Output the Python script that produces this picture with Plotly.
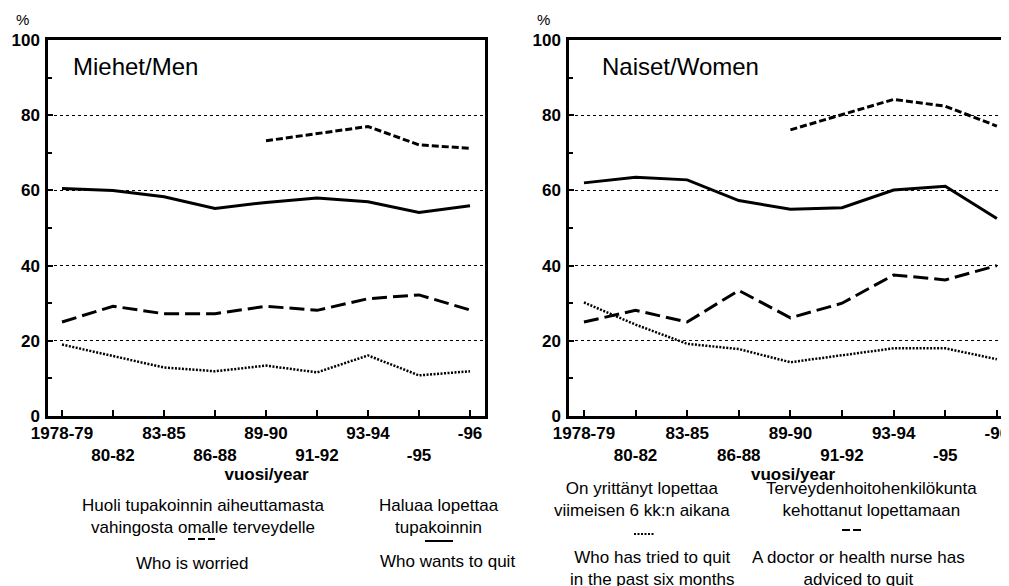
import plotly.graph_objects as go

W, H = 1009, 586

periods = ["1978-79", "80-82", "83-85", "86-88", "89-90", "91-92", "93-94", "-95", "-96"]

# Men
men_wants_quit = [60.5, 60, 58.3, 55.2, 56.8, 58, 57, 54.1, 55.9]
men_worried = [None, None, None, None, 73.2, 75.2, 77, 72.1, 71.2]
men_doctor = [25, 29.2, 27.2, 27.2, 29.2, 28.1, 31.2, 32.2, 28.2]
men_tried = [19, 15.9, 12.9, 11.9, 13.4, 11.6, 16.1, 10.8, 11.9]

# Women
women_wants_quit = [62, 63.5, 62.8, 57.3, 55, 55.4, 60.1, 61.1, 52.5]
women_worried = [None, None, None, None, 76.1, 80.2, 84.2, 82.4, 77.1]
women_doctor = [25, 28.1, 25, 33.4, 26.1, 30, 37.5, 36.2, 40]
women_tried = [30.2, 24.3, 19.2, 17.8, 14.3, 16.1, 18, 18, 15.1]

FONT = "Liberation Sans"

# page body has an 8px margin: convert screen pixels to paper fractions
OX, OY = 8, 8

def px(x):
    return (x - OX) / W

def py(y):
    return 1 - (y - OY) / H

x_idx = list(range(len(periods)))
ticktext = [p if i % 2 == 0 else "<br>" + p for i, p in enumerate(periods)]

styles = {
    "wants": dict(color="black", width=3, dash="solid"),
    "worried": dict(color="black", width=3, dash="7px,3px"),
    "doctor": dict(color="black", width=3, dash="15px,6px"),
    "tried": dict(color="black", width=2.5, dash="2px,1.5px"),
}

fig = go.Figure()

def add_panel(xa, ya, wants, worried, doctor, tried):
    for vals, key in [(wants, "wants"), (worried, "worried"), (doctor, "doctor"), (tried, "tried")]:
        fig.add_trace(go.Scatter(x=x_idx, y=vals, mode="lines", line=styles[key],
                                 xaxis=xa, yaxis=ya, showlegend=False, connectgaps=False,
                                 hoverinfo="skip"))

add_panel("x", "y", men_wants_quit, men_worried, men_doctor, men_tried)
add_panel("x2", "y2", women_wants_quit, women_worried, women_doctor, women_tried)

tickfont = dict(family=FONT, size=17, color="black", weight="bold")

def xaxis_cfg(domain, rng, mirror):
    return dict(domain=domain, range=rng, tickvals=x_idx, ticktext=ticktext, tickangle=0,
                automargin=False,
                ticks="inside", ticklen=6, tickwidth=1.5, tickcolor="black",
                showline=True, linewidth=2.5, linecolor="black", mirror=mirror,
                showgrid=False, zeroline=False, tickfont=tickfont,
                title=dict(text="vuosi/year", font=dict(family=FONT, size=17, color="black", weight="bold"), standoff=2))

def yaxis_cfg(domain, anchor, mirror):
    return dict(domain=domain, range=[0, 100], dtick=20, anchor=anchor, automargin=False,
                ticks="inside", ticklen=5, tickwidth=1.5, tickcolor="black",
                showline=True, linewidth=2.5, linecolor="black", mirror=mirror,
                showgrid=True, gridcolor="black", griddash="dot", gridwidth=1,
                zeroline=False, tickfont=tickfont, ticklabelstandoff=2,
                minor=dict(dtick=10, ticks="inside", ticklen=4, tickcolor="black", showgrid=False))

ydom = [py(416), py(40)]

fig.update_layout(
    width=W, height=H,
    margin=dict(l=0, r=0, t=0, b=0, autoexpand=False),
    paper_bgcolor="white", plot_bgcolor="white",
    font=dict(family=FONT, color="black"),
    xaxis=xaxis_cfg([px(48), px(485)], [-0.275, 8.294], True),
    yaxis=yaxis_cfg(ydom, "x", True),
    xaxis2=dict(xaxis_cfg([px(569), 1.0], [-0.29, 8.39], True), anchor="y2"),
    yaxis2=yaxis_cfg(ydom, "x2", False),
)

ann = []
def text(x, y, s, size=17, xanchor="center"):
    ann.append(dict(x=px(x), y=py(y), xref="paper", yref="paper", text=s, showarrow=False,
                    xanchor=xanchor, yanchor="middle", align="center",
                    font=dict(family=FONT, size=size, color="black")))

text(22, 20, "%", 15)
text(543, 20, "%", 15)
text(71, 66, "Miehet/Men", 24, "left")
text(600, 66, "Naiset/Women", 24, "left")

text(203, 516, "Huoli tupakoinnin aiheuttamasta<br>vahingosta omalle terveydelle")
text(192, 563, "Who is worried")
text(439, 516, "Haluaa lopettaa<br>tupakoinnin")
text(447, 561, "Who wants to quit")
text(642, 499, "On yrittänyt lopettaa<br>viimeisen 6 kk:n aikana")
text(652, 568, "Who has tried to quit<br>in the past six months")
text(871, 499, "Terveydenhoitohenkilökunta<br>kehottanut lopettamaan")
text(858, 568, "A doctor or health nurse has<br>adviced to quit")
fig.update_layout(annotations=ann)

shapes = []
def sample(x0, x1, y, key):
    st = styles[key]
    shapes.append(dict(type="line", xref="paper", yref="paper", x0=px(x0), x1=px(x1), y0=py(y), y1=py(y),
                       line=dict(color="black", width=2, dash=st["dash"] if key != "doctor" else "8px,3px")))

sample(188, 218, 539, "worried")
sample(425, 453, 541, "wants")
sample(634, 654, 534, "tried")
sample(842, 863, 530, "doctor")
fig.update_layout(shapes=shapes)

fig.write_html("out.html")
